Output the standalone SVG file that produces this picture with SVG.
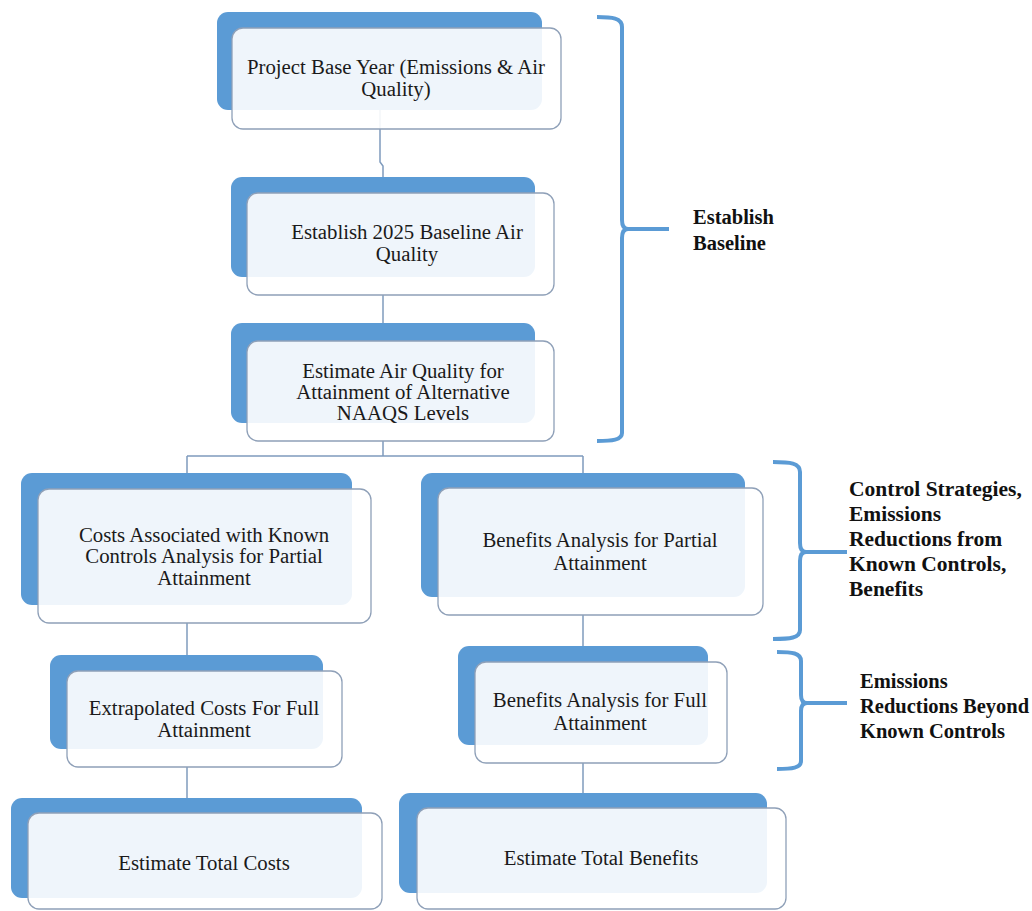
<svg xmlns="http://www.w3.org/2000/svg" width="1032" height="911" viewBox="0 0 1032 911">
<defs>
<style>
.back{fill:#5b9bd5;}
.front{fill:#ffffff;fill-opacity:0.9;stroke:#8fa0b8;stroke-width:1.3;}
.t{font-family:"Liberation Serif","Times New Roman",serif;font-size:20.8px;fill:#1a1a1a;text-anchor:middle;}
.lbl{font-family:"Liberation Serif","Times New Roman",serif;font-size:20.5px;font-weight:bold;fill:#111111;}
.lbl2{font-family:"Liberation Serif","Times New Roman",serif;font-size:21.5px;font-weight:bold;fill:#111111;}
.conn{fill:none;stroke:#7f9bbd;stroke-width:1.5;}
.brace{fill:none;stroke:#5b9bd5;stroke-width:4;stroke-linecap:butt;stroke-linejoin:round;}
</style>
</defs>
<rect width="1032" height="911" fill="#ffffff"/>
<g id="connectors">
<path class="conn" d="M380,110 V162 L383,166 V177"/>
<path class="conn" d="M383,295 V323"/>
<path class="conn" d="M383,441 V456 M187,456 H583 M187,456 V473 M583,456 V473"/>
<path class="conn" d="M187,623 V655"/>
<path class="conn" d="M187,767 V798"/>
<path class="conn" d="M583,615 V646"/>
<path class="conn" d="M583,763 V793"/>
</g>
<g id="node-project-base-year">
<rect class="back" x="217" y="12" width="325" height="98" rx="11"/>
<rect class="front" x="232" y="28" width="329" height="101" rx="11"/>
<text class="t" x="396" y="74">Project Base Year (Emissions &amp; Air</text>
<text class="t" x="396" y="96">Quality)</text>
</g>
<g id="node-establish-2025">
<rect class="back" x="231" y="177" width="304" height="100" rx="11"/>
<rect class="front" x="247" y="193" width="307" height="102" rx="11"/>
<text class="t" x="407" y="239">Establish 2025 Baseline Air</text>
<text class="t" x="407" y="261">Quality</text>
</g>
<g id="node-estimate-air-quality">
<rect class="back" x="231" y="323" width="304" height="100" rx="11"/>
<rect class="front" x="247" y="341" width="307" height="100" rx="11"/>
<text class="t" x="403" y="378">Estimate Air Quality for</text>
<text class="t" x="403" y="399">Attainment of Alternative</text>
<text class="t" x="403" y="420">NAAQS Levels</text>
</g>
<g id="node-costs-known-controls">
<rect class="back" x="21" y="473" width="331" height="132" rx="11"/>
<rect class="front" x="38" y="489" width="333" height="134" rx="11"/>
<text class="t" x="204" y="542">Costs Associated with Known</text>
<text class="t" x="204" y="563">Controls Analysis for Partial</text>
<text class="t" x="204" y="585">Attainment</text>
</g>
<g id="node-benefits-partial">
<rect class="back" x="421" y="473" width="324" height="124" rx="11"/>
<rect class="front" x="438" y="488" width="325" height="127" rx="11"/>
<text class="t" x="600" y="547">Benefits Analysis for Partial</text>
<text class="t" x="600" y="570">Attainment</text>
</g>
<g id="node-extrapolated-costs">
<rect class="back" x="50" y="655" width="273" height="94" rx="11"/>
<rect class="front" x="67" y="671" width="275" height="96" rx="11"/>
<text class="t" x="204" y="715">Extrapolated Costs For Full</text>
<text class="t" x="204" y="737">Attainment</text>
</g>
<g id="node-benefits-full">
<rect class="back" x="458" y="646" width="250" height="99" rx="11"/>
<rect class="front" x="475" y="662" width="252" height="101" rx="11"/>
<text class="t" x="600" y="707">Benefits Analysis for Full</text>
<text class="t" x="600" y="730">Attainment</text>
</g>
<g id="node-total-costs">
<rect class="back" x="11" y="798" width="351" height="100" rx="11"/>
<rect class="front" x="28" y="813" width="354" height="96" rx="11"/>
<text class="t" x="204" y="870">Estimate Total Costs</text>
</g>
<g id="node-total-benefits">
<rect class="back" x="399" y="793" width="368" height="100" rx="11"/>
<rect class="front" x="417" y="808" width="369" height="101" rx="11"/>
<text class="t" x="601" y="865">Estimate Total Benefits</text>
</g>
<g id="brace-establish-baseline">
<path class="brace" d="M597,17 C612,17 622,18 622,27 L622,220 C622,226 624,229 628,229 L669,229 M628,229 C624,229 622,232 622,238 L622,433 C622,440 612,441 597,441"/>
<text class="lbl" x="693" y="224">Establish</text>
<text class="lbl" x="693" y="250">Baseline</text>
</g>
<g id="brace-control-strategies">
<path class="brace" d="M773,462 C790,462 800,463 800,472 L800,543 C800,549 802,552 806,552 L847,552 M806,552 C802,552 800,555 800,561 L800,630 C800,638 790,639 773,639"/>
<text class="lbl2" x="849" y="496">Control Strategies,</text>
<text class="lbl2" x="849" y="521">Emissions</text>
<text class="lbl2" x="849" y="546">Reductions from</text>
<text class="lbl2" x="849" y="571">Known Controls,</text>
<text class="lbl2" x="849" y="596">Benefits</text>
</g>
<g id="brace-beyond-known">
<path class="brace" d="M777,652 C792,652 801,653 801,661 L801,695 C801,700 803,703 807,703 L847,703 M807,703 C803,703 801,706 801,711 L801,761 C801,768 792,769 777,769"/>
<text class="lbl" x="860" y="688">Emissions</text>
<text class="lbl" x="860" y="713">Reductions Beyond</text>
<text class="lbl" x="860" y="738">Known Controls</text>
</g>
</svg>
